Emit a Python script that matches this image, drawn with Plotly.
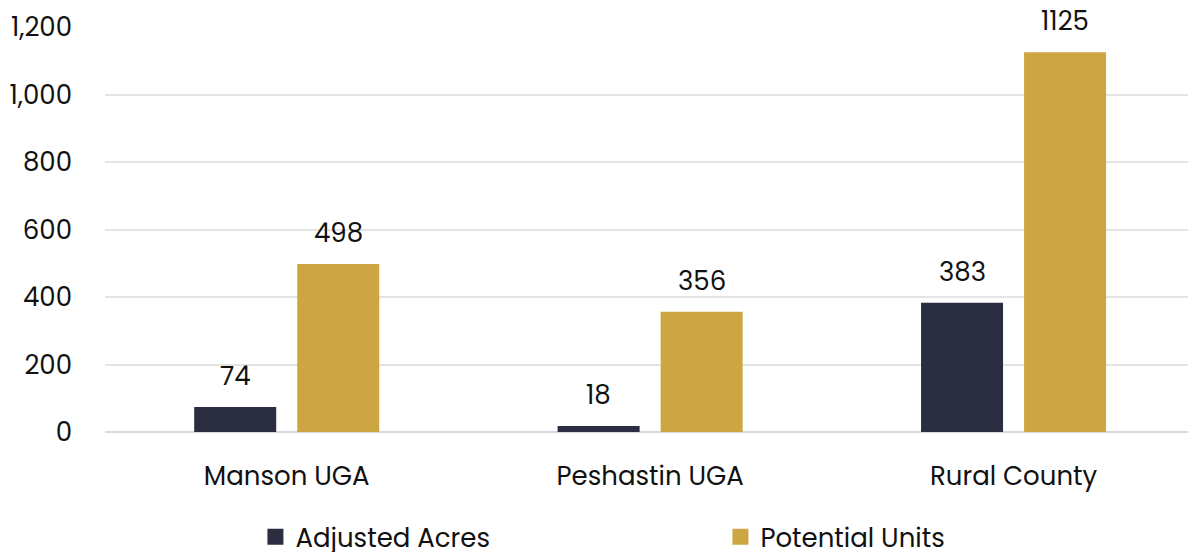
import plotly.graph_objects as go

categories = ["Manson UGA", "Peshastin UGA", "Rural County"]
adjusted_acres = [74, 18, 383]
potential_units = [498, 356, 1125]
series_names = ["Adjusted Acres", "Potential Units"]
colors = ["#2b2e40", "#cda643"]

FONT = "Poppins, Inter, Roboto, sans-serif"
FS = 26

fig = go.Figure()
for name, vals, col in zip(series_names, [adjusted_acres, potential_units], colors):
    fig.add_trace(go.Bar(x=categories, y=vals, name=name, marker_color=col,
                         marker_line_width=0, showlegend=False))
# legend entries with larger square symbols
for name, col in zip(series_names, colors):
    fig.add_trace(go.Scatter(x=[None], y=[None], mode="markers", name=name,
                             marker=dict(symbol="square", size=18, color=col)))

# value labels
for ti, vals in enumerate([adjusted_acres, potential_units]):
    for ci, v in enumerate(vals):
        fig.add_annotation(x=ci, y=v, text=str(v), showarrow=False,
                           xref="x", yref="y", xanchor="center", yanchor="bottom",
                           xshift=(-1 if ti == 0 else 1) * 51.5, yshift=11,
                           font=dict(size=FS, color="#111111", family=FONT))

fig.update_layout(
    width=1188, height=552,
    margin=dict(l=105, r=0, t=27, b=120, autoexpand=False),
    paper_bgcolor="white", plot_bgcolor="white",
    barmode="group", bargap=0.433, bargroupgap=0.204,
    font=dict(family=FONT, size=FS, color="#111111"),
    showlegend=True,
    legend=dict(orientation="h", x=0.1389, xanchor="left", y=-0.259, yanchor="middle",
                font=dict(size=FS, family=FONT, color="#111111"),
                entrywidth=420, entrywidthmode="pixels", itemsizing="trace",
                traceorder="normal"),
)
fig.update_xaxes(type="category", range=[-0.5, 2.48], showgrid=False,
                 showline=False, ticks="", tickfont=dict(size=FS),
                 ticklabelstandoff=26, automargin=False)
fig.update_yaxes(range=[0, 1200], dtick=200, tickformat=",d", showgrid=True,
                 gridcolor="#e4e4e4", gridwidth=2, zeroline=True,
                 zerolinecolor="#d8d8e4", zerolinewidth=2,
                 tickfont=dict(size=FS), ticklabelstandoff=32, showline=False,
                 automargin=False)

fig.write_html("out.html")
